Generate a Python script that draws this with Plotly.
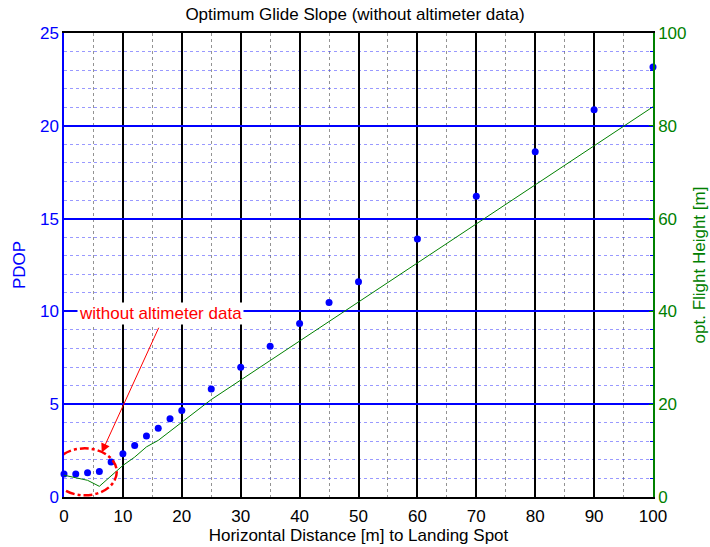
import plotly.graph_objects as go

# Data
dist_pdop = [0, 2, 4, 6, 8, 10, 12, 14, 16, 18, 20, 25, 30, 35, 40, 45, 50, 60, 70, 80, 90, 100]
pdop = [1.24, 1.24, 1.3, 1.38, 1.88, 2.33, 2.78, 3.28, 3.71, 4.21, 4.66, 5.82, 6.99, 8.12, 9.35, 10.48, 11.6, 13.9, 16.2, 18.6, 20.86, 23.17]
dist_h = [0, 2, 4, 6, 8, 10, 12, 14, 16, 18, 20, 25, 30, 35, 40, 45, 50, 60, 70, 80, 90, 100]
height = [4.7, 4.2, 3.6, 2.3, 4.5, 6.8, 8.6, 10.8, 12.2, 14.2, 16.2, 21.0, 25.2, 29.4, 33.6, 37.8, 42.0, 50.4, 58.8, 67.2, 75.6, 84.1]
x_ticks = [0, 10, 20, 30, 40, 50, 60, 70, 80, 90, 100]
y_ticks = [0, 5, 10, 15, 20, 25]
y2_ticks = [0, 20, 40, 60, 80, 100]

FONT = "Liberation Sans, Arial, sans-serif"
BLUE = "#0000FF"
GREEN = "#008000"

fig = go.Figure()
fig.add_trace(go.Scatter(x=dist_pdop, y=pdop, mode="markers", cliponaxis=False,
                         marker=dict(color=BLUE, size=7), yaxis="y", showlegend=False))
fig.add_trace(go.Scatter(x=dist_h, y=height, mode="lines",
                         line=dict(color=GREEN, width=1), yaxis="y2", showlegend=False))

fig.update_layout(
    width=710, height=547,
    margin=dict(l=64, r=57, t=33, b=50, autoexpand=False),
    plot_bgcolor="white", paper_bgcolor="white",
    font=dict(family=FONT, size=17, color="black"),
    title=dict(text="Optimum Glide Slope (without altimeter data)", x=0.5, xanchor="center",
               y=1 - 14 / 547, yanchor="middle", font=dict(size=17, color="black")),
    xaxis=dict(range=[0, 100], tickvals=x_ticks, ticks="inside", ticklen=4, tickcolor="black",
               showgrid=True, gridcolor="black", gridwidth=1.5, automargin=False,
               minor=dict(dtick=5, showgrid=True, gridcolor="rgba(120,120,120,0.8)", griddash="dot", gridwidth=1, ticks=""),
               showline=True, linecolor="black", linewidth=1.5, mirror=True,
               zeroline=False, tickfont=dict(size=17, color="black"), ticklabelstandoff=3,
               title=dict(text="Horizontal Distance [m] to Landing Spot", font=dict(size=17, color="black"), standoff=1)),
    yaxis=dict(range=[0, 25], tickvals=y_ticks, ticks="inside", ticklen=4, tickcolor=BLUE,
               showgrid=True, gridcolor=BLUE, gridwidth=1.5, automargin=False,
               minor=dict(dtick=1, showgrid=True, gridcolor="rgba(70,70,255,0.55)", griddash="dot", gridwidth=1, ticks=""),
               showline=True, linecolor=BLUE, linewidth=1.5, zeroline=False,
               tickfont=dict(size=17, color=BLUE),
               title=dict(text="PDOP", font=dict(size=17, color=BLUE), standoff=10)),
    yaxis2=dict(range=[0, 100], tickvals=y2_ticks, overlaying="y", side="right",
                ticks="inside", ticklen=4, tickcolor=GREEN, automargin=False,
                minor=dict(dtick=4, ticks="inside", ticklen=3, tickcolor=BLUE),
                showgrid=False, showline=True, linecolor=GREEN, linewidth=1.5, zeroline=False,
                tickfont=dict(size=17, color=GREEN),
                title=dict(text="opt. Flight Height [m]", font=dict(size=17, color=GREEN), standoff=8)),
)

# Annotation: dash-dot ellipse around the first points, arrow, label
fig.add_shape(type="circle", xref="x", yref="y", x0=-1.9, x1=8.96, y0=0.09, y1=2.62,
              line=dict(color="red", width=2.5, dash="dashdot"))
fig.add_annotation(x=6.4, y=2.4, xref="x", yref="y", ax=16.2, ay=9.2, axref="x", ayref="y",
                   text="", showarrow=True, arrowhead=2, arrowsize=1.8, arrowwidth=1, arrowcolor="red")
fig.add_annotation(x=16.4, y=9.9, xref="x", yref="y", text="without altimeter data",
                   showarrow=False, font=dict(size=17, color="red"), bgcolor="white",
                   xanchor="center", yanchor="middle")

fig.write_html("out.html")
